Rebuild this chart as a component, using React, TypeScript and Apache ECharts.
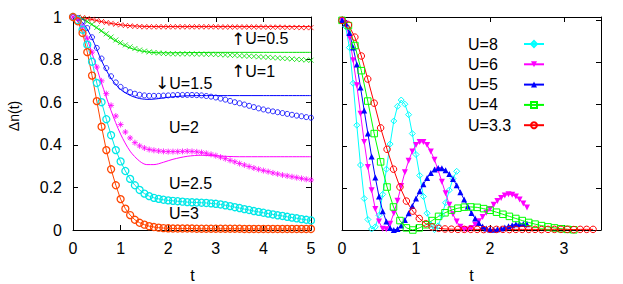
import React, { useEffect, useRef } from "react";
import * as echarts from "echarts";

const FONT = "'Liberation Sans', Arial, sans-serif";

// ---------- left panel ----------
const tLeft = [0, 0.1, 0.2, 0.3, 0.4, 0.5, 0.6, 0.7, 0.8, 0.9, 1, 1.1, 1.2, 1.3, 1.4, 1.5, 1.6, 1.7, 1.8, 1.9, 2, 2.1, 2.2, 2.3, 2.4, 2.5, 2.6, 2.7, 2.8, 2.9, 3, 3.1, 3.2, 3.3, 3.4, 3.5, 3.6, 3.7, 3.8, 3.9, 4, 4.1, 4.2, 4.3, 4.4, 4.5, 4.6, 4.7, 4.8, 4.9, 5];

const u05Pts = [1, 0.999, 0.997, 0.993, 0.989, 0.984, 0.979, 0.974, 0.97, 0.966, 0.963, 0.96, 0.958, 0.956, 0.955, 0.954, 0.954, 0.954, 0.954, 0.954, 0.954, 0.954, 0.954, 0.954, 0.954, 0.954, 0.954, 0.954, 0.954, 0.954, 0.954, 0.953, 0.953, 0.953, 0.953, 0.953, 0.953, 0.953, 0.953, 0.953, 0.953, 0.952, 0.952, 0.952, 0.952, 0.951, 0.951, 0.951, 0.95, 0.95, 0.95];
const u1Pts = [1, 0.997, 0.99, 0.979, 0.966, 0.951, 0.936, 0.921, 0.906, 0.892, 0.88, 0.869, 0.86, 0.852, 0.845, 0.84, 0.836, 0.833, 0.831, 0.829, 0.828, 0.827, 0.827, 0.827, 0.827, 0.827, 0.826, 0.826, 0.825, 0.825, 0.824, 0.823, 0.822, 0.821, 0.82, 0.818, 0.817, 0.816, 0.815, 0.813, 0.812, 0.811, 0.809, 0.808, 0.806, 0.805, 0.803, 0.801, 0.8, 0.798, 0.797];
const u15Pts = [1, 0.995, 0.978, 0.948, 0.905, 0.855, 0.805, 0.76, 0.722, 0.693, 0.672, 0.657, 0.647, 0.64, 0.635, 0.632, 0.63, 0.63, 0.63, 0.631, 0.632, 0.633, 0.634, 0.634, 0.634, 0.634, 0.633, 0.632, 0.629, 0.626, 0.622, 0.617, 0.612, 0.606, 0.6, 0.595, 0.589, 0.583, 0.577, 0.571, 0.566, 0.561, 0.557, 0.553, 0.549, 0.545, 0.541, 0.537, 0.534, 0.53, 0.527];
const u2Pts = [1, 0.99, 0.955, 0.9, 0.835, 0.765, 0.7, 0.64, 0.585, 0.535, 0.495, 0.46, 0.432, 0.41, 0.395, 0.385, 0.378, 0.374, 0.371, 0.369, 0.368, 0.368, 0.368, 0.369, 0.37, 0.369, 0.367, 0.364, 0.36, 0.355, 0.349, 0.342, 0.335, 0.327, 0.32, 0.312, 0.305, 0.298, 0.291, 0.285, 0.279, 0.274, 0.268, 0.263, 0.258, 0.254, 0.25, 0.246, 0.242, 0.238, 0.235];
const u25Pts = [1, 0.985, 0.94, 0.87, 0.79, 0.69, 0.6, 0.52, 0.445, 0.375, 0.322, 0.277, 0.24, 0.21, 0.188, 0.171, 0.159, 0.151, 0.146, 0.142, 0.139, 0.137, 0.135, 0.133, 0.131, 0.13, 0.129, 0.128, 0.127, 0.125, 0.123, 0.12, 0.116, 0.112, 0.107, 0.103, 0.098, 0.094, 0.089, 0.085, 0.081, 0.077, 0.073, 0.069, 0.066, 0.062, 0.058, 0.055, 0.051, 0.048, 0.045];
const u3Pts = [1, 0.98, 0.925, 0.835, 0.725, 0.605, 0.485, 0.375, 0.285, 0.21, 0.145, 0.1, 0.07, 0.048, 0.034, 0.025, 0.018, 0.014, 0.011, 0.009, 0.008, 0.007, 0.007, 0.007, 0.007, 0.007, 0.006, 0.006, 0.006, 0.006, 0.006, 0.006, 0.006, 0.006, 0.006, 0.006, 0.005, 0.005, 0.005, 0.005, 0.005, 0.005, 0.005, 0.005, 0.005, 0.005, 0.005, 0.005, 0.005, 0.005, 0.005];

const u05Line = [[0, 1], [0.3, 0.993], [0.6, 0.978], [0.9, 0.966], [1.2, 0.959], [1.5, 0.956], [1.8, 0.955], [2.2, 0.955], [3, 0.955], [4, 0.955], [5, 0.955]];
const u1Line = [[0, 1], [0.2, 0.99], [0.4, 0.963], [0.6, 0.932], [0.8, 0.9], [1, 0.874], [1.2, 0.854], [1.4, 0.842], [1.6, 0.835], [1.8, 0.832], [2, 0.832], [2.5, 0.833], [3, 0.834], [4, 0.834], [5, 0.834]];
const u15Line = [[0, 1], [0.2, 0.975], [0.4, 0.9], [0.6, 0.795], [0.8, 0.712], [1, 0.66], [1.2, 0.632], [1.4, 0.617], [1.6, 0.613], [1.8, 0.617], [2, 0.623], [2.3, 0.629], [2.6, 0.631], [3, 0.631], [4, 0.631], [5, 0.631]];
const u2Line = [[0, 1], [0.2, 0.95], [0.4, 0.83], [0.6, 0.69], [0.8, 0.56], [1, 0.45], [1.2, 0.37], [1.4, 0.323], [1.55, 0.307], [1.7, 0.307], [1.9, 0.318], [2.1, 0.332], [2.4, 0.346], [2.7, 0.351], [3, 0.348], [3.5, 0.344], [4, 0.344], [5, 0.344]];

// ---------- right panel ----------
const tFine = [0, 0.05, 0.1, 0.15, 0.2, 0.25, 0.3, 0.35, 0.4, 0.45, 0.5, 0.55, 0.6, 0.65, 0.7, 0.75, 0.8, 0.85, 0.9, 0.95, 1, 1.05, 1.1, 1.15, 1.2, 1.25, 1.3, 1.35, 1.4, 1.45, 1.5, 1.55, 1.6, 1.65, 1.7, 1.75, 1.8, 1.85, 1.9, 1.95, 2, 2.05, 2.1, 2.15, 2.2, 2.25, 2.3, 2.35, 2.4, 2.45, 2.5];
const tCoarse = [0, 0.087, 0.174, 0.261, 0.348, 0.435, 0.522, 0.609, 0.696, 0.783, 0.87, 0.957, 1.044, 1.131, 1.218, 1.305, 1.392, 1.479, 1.566, 1.653, 1.74, 1.827, 1.914, 2.001, 2.088, 2.175, 2.262, 2.349, 2.436, 2.523, 2.61, 2.697, 2.784, 2.871, 2.958, 3.045, 3.132, 3.219, 3.306, 3.393];

const u8 = [1, 0.97, 0.87, 0.7, 0.5, 0.31, 0.15, 0.05, 0.005, 0.015, 0.07, 0.17, 0.29, 0.41, 0.52, 0.59, 0.62, 0.6, 0.55, 0.46, 0.36, 0.26, 0.16, 0.08, 0.025, 0.002, 0.02, 0.07, 0.13, 0.19, 0.245, 0.28];
const u6 = [1, 0.985, 0.92, 0.81, 0.69, 0.555, 0.42, 0.3, 0.19, 0.1, 0.04, 0.006, 0.004, 0.03, 0.08, 0.14, 0.21, 0.275, 0.33, 0.375, 0.405, 0.42, 0.42, 0.405, 0.375, 0.335, 0.285, 0.23, 0.175, 0.12, 0.075, 0.04, 0.015, 0.003, 0.002, 0.01, 0.025, 0.042, 0.062, 0.082, 0.1, 0.12, 0.138, 0.153, 0.165, 0.17, 0.168, 0.16, 0.145, 0.127, 0.107];
const u5 = [1, 0.985, 0.94, 0.87, 0.79, 0.68, 0.57, 0.46, 0.35, 0.25, 0.16, 0.09, 0.04, 0.01, 0, 0.005, 0.022, 0.048, 0.08, 0.115, 0.15, 0.185, 0.218, 0.248, 0.272, 0.288, 0.296, 0.295, 0.285, 0.267, 0.243, 0.213, 0.18, 0.146, 0.112, 0.081, 0.055, 0.033, 0.017, 0.007, 0.002, 0.001, 0.003, 0.007, 0.012, 0.018, 0.023, 0.027, 0.029, 0.029, 0.027];
const u4 = [1, 0.975, 0.88, 0.76, 0.615, 0.46, 0.325, 0.205, 0.11, 0.045, 0.01, 0, 0.01, 0.025, 0.045, 0.065, 0.082, 0.095, 0.104, 0.109, 0.11, 0.108, 0.102, 0.094, 0.085, 0.075, 0.065, 0.055, 0.045, 0.036, 0.028, 0.021, 0.015, 0.01, 0.006, 0.003, 0.001];
const u33 = [1, 0.978, 0.92, 0.83, 0.72, 0.605, 0.487, 0.385, 0.29, 0.205, 0.138, 0.09, 0.055, 0.03, 0.015, 0.008, 0.005, 0.004, 0.003, 0.003, 0.003, 0.003, 0.002, 0.003, 0.003, 0.003, 0.002, 0.003, 0.003, 0.003, 0.003, 0.002, 0.003, 0.003, 0.003, 0.003, 0.002, 0.003, 0.003, 0.003];

const xTicksLeft = { min: 0, max: 5, interval: 1 };
const yTicks = { min: 0, max: 1, interval: 0.2 };
const xTicksRight = { min: 0, max: 3.5, interval: 1 };

const RED = "#ff0000";
const GREEN = "#00e000";
const BLUE = "#0000ff";
const MAGENTA = "#ff00ff";
const CYAN = "#00e8e8";
const ORANGE = "#ff4500";

const CROSS = "path://M0,0L10,10M10,0L0,10";
const STAR = "path://M5,0L5,10M0,5L10,5M1.5,1.5L8.5,8.5M8.5,1.5L1.5,8.5";

function pts(ts: number[], ys: number[]) {
  return ys.map((y, i) => [ts[i], y]);
}

const axisCommon = {
  axisLine: { show: true, onZero: false, lineStyle: { color: "#000", width: 1 } },
  axisTick: { show: true, inside: true, length: 5, lineStyle: { color: "#000", width: 1 } },
  splitLine: { show: false },
};
const labelStyle = { color: "#000", fontSize: 16, fontFamily: FONT };

function lineSeries(data: number[][], color: string) {
  return {
    type: "line",
    xAxisIndex: 0,
    yAxisIndex: 0,
    data,
    smooth: 0.3,
    symbol: "none",
    silent: true,
    lineStyle: { color, width: 1 },
    z: 2,
  };
}
function markSeries(data: number[][], color: string, symbol: string, size: number, bw = 1) {
  return {
    type: "scatter",
    xAxisIndex: 0,
    yAxisIndex: 0,
    data,
    symbol,
    symbolSize: size,
    silent: true,
    itemStyle: { color: "rgba(0,0,0,0)", borderColor: color, borderWidth: bw },
    z: 3,
  };
}
function lineMarkSeries(data: number[][], color: string, size: number) {
  return {
    type: "line",
    xAxisIndex: 0,
    yAxisIndex: 0,
    data,
    symbol: "circle",
    symbolSize: size,
    showAllSymbol: true,
    silent: true,
    lineStyle: { color, width: 1 },
    itemStyle: { color: "rgba(0,0,0,0)", borderColor: color, borderWidth: 1.3 },
    z: 3,
  };
}
function rightSeries(name: string, data: number[][], color: string, symbol: string, filled: boolean, size: number, rotate = 0) {
  return {
    name,
    type: "line",
    xAxisIndex: 2,
    yAxisIndex: 2,
    data,
    symbol,
    symbolSize: size,
    symbolRotate: rotate,
    showAllSymbol: true,
    lineStyle: { color, width: 1 },
    itemStyle: filled
      ? { color, borderColor: color, borderWidth: 0 }
      : { color: "rgba(0,0,0,0)", borderColor: color, borderWidth: 1 },
  };
}

const ARROW = { fontFamily: "'DejaVu Sans', sans-serif", fontSize: 17, fill: "#000" };
function label(x: number, y: number, text: string) {
  return {
    type: "text",
    x,
    y,
    style: {
      text,
      fontSize: 16,
      fontFamily: FONT,
      fill: "#000",
      verticalAlign: "middle",
      rich: { arr: ARROW, u: { fontSize: 16, fontFamily: FONT, fill: "#000" } },
    },
  };
}

export default function App() {
  const ref = useRef<HTMLDivElement>(null);
  useEffect(() => {
    document.body.style.margin = "0";
    const chart = echarts.init(ref.current!, null, { renderer: "svg" });
    const option = {
      animation: false,
      backgroundColor: "#fff",
      textStyle: { fontFamily: FONT },
      grid: [
        { left: 73, top: 17, width: 238, height: 213 },
        { left: 342, top: 17, width: 259, height: 213 },
      ],
      xAxis: [
        { type: "value", gridIndex: 0, position: "bottom", ...xTicksLeft, ...axisCommon, axisLabel: { ...labelStyle, margin: 10 } },
        { type: "value", gridIndex: 0, position: "top", ...xTicksLeft, ...axisCommon, axisLabel: { show: false } },
        { type: "value", gridIndex: 1, position: "bottom", ...xTicksRight, ...axisCommon, axisLabel: { ...labelStyle, margin: 10, showMaxLabel: false } },
        { type: "value", gridIndex: 1, position: "top", ...xTicksRight, ...axisCommon, axisLabel: { show: false } },
      ],
      yAxis: [
        { type: "value", gridIndex: 0, position: "left", ...yTicks, ...axisCommon, axisLabel: { ...labelStyle, margin: 11 } },
        { type: "value", gridIndex: 0, position: "right", ...yTicks, ...axisCommon, axisLabel: { show: false } },
        { type: "value", gridIndex: 1, position: "left", ...yTicks, max: 1.016, ...axisCommon, axisLabel: { show: false } },
        { type: "value", gridIndex: 1, position: "right", ...yTicks, max: 1.016, ...axisCommon, axisLabel: { show: false } },
      ],
      legend: {
        data: ["U=8", "U=6", "U=5", "U=4", "U=3.3"],
        orient: "vertical",
        left: 463,
        top: 31,
        align: "right",
        itemWidth: 20,
        itemHeight: 7.5,
        itemGap: 4.3,
        selectedMode: false,
        formatter: (n: string) => "{a|" + n + "}",
        textStyle: {
          color: "#000",
          fontSize: 16,
          fontFamily: FONT,
          rich: { a: { width: 51, align: "left", fontSize: 16, lineHeight: 16, fontFamily: FONT, color: "#000" } },
        },
      },
      graphic: [
        label(231, 38.5, "{arr|↑}{u|U=0.5}"),
        label(231, 71, "{arr|↑}{u|U=1}"),
        label(155, 83, "{arr|↓}{u|U=1.5}"),
        label(169, 127, "U=2"),
        label(169, 183, "U=2.5"),
        label(169, 213, "U=3"),
        { type: "text", x: 192.5, y: 275, style: { text: "t", fontSize: 16, fontFamily: FONT, fill: "#000", align: "center", verticalAlign: "middle" } },
        { type: "text", x: 471.5, y: 275, style: { text: "t", fontSize: 16, fontFamily: FONT, fill: "#000", align: "center", verticalAlign: "middle" } },
        { type: "text", x: 14, y: 116, rotation: Math.PI / 2, style: { text: "Δn(t)", fontSize: 14, fontFamily: FONT, fill: "#000", align: "center", verticalAlign: "middle" } },
      ],
      series: [
        lineSeries(u05Line, RED),
        markSeries(pts(tLeft, u05Pts), RED, CROSS, 5),
        lineSeries(u1Line, GREEN),
        markSeries(pts(tLeft, u1Pts), GREEN, CROSS, 5),
        lineSeries(u15Line, BLUE),
        markSeries(pts(tLeft, u15Pts), BLUE, "circle", 5),
        lineSeries(u2Line, MAGENTA),
        markSeries(pts(tLeft, u2Pts), MAGENTA, STAR, 6),
        lineMarkSeries(pts(tLeft, u25Pts), CYAN, 7),
        lineMarkSeries(pts(tLeft, u3Pts), ORANGE, 7),
        rightSeries("U=8", pts(tFine, u8), "#00ffff", "diamond", false, 6),
        rightSeries("U=6", pts(tFine, u6), MAGENTA, "triangle", true, 6, 180),
        rightSeries("U=5", pts(tFine, u5), BLUE, "triangle", true, 6),
        rightSeries("U=4", pts(tCoarse, u4), "#00ff00", "rect", false, 6.5),
        rightSeries("U=3.3", pts(tCoarse, u33), RED, "circle", false, 6.5),
      ],
    };
    chart.setOption(option as any);
    return () => chart.dispose();
  }, []);
  return <div ref={ref} style={{ width: 623, height: 284 }} />;
}
